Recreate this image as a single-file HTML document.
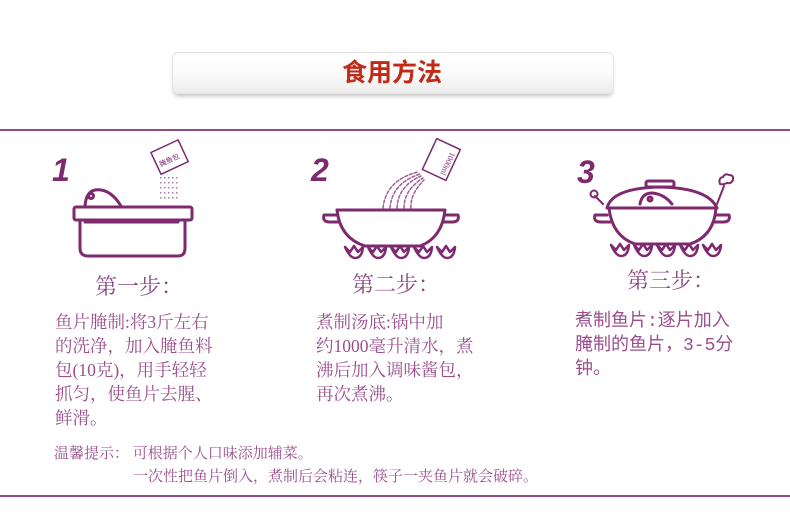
<!DOCTYPE html>
<html><head><meta charset="utf-8"><style>
body{margin:0;width:790px;height:524px;background:#fff;position:relative;overflow:hidden}
.t{position:absolute;white-space:nowrap;color:#9a4f8c;font-family:"Liberation Serif","Noto Serif CJK SC",serif}
.b{font-size:17.5px;line-height:24px}
.s{font-size:22px;color:#8a4a80}
</style></head><body>
<div style="position:absolute;left:172px;top:52px;width:440px;height:40px;border-radius:6px;border:1px solid #e4e4e4;background:linear-gradient(#fff,#fbfbfb 50%,#ececec);box-shadow:0 4px 5px -2px rgba(0,0,0,.25)"></div>
<div class="t" style="left:172px;width:440px;text-align:center;top:54px;font:bold 25px/34px 'Noto Sans CJK SC',sans-serif;color:#c22a18">食用方法</div>
<div style="position:absolute;left:0;top:129px;width:790px;height:2px;background:#8f4c84"></div>
<div style="position:absolute;left:0;top:495px;width:790px;height:2px;background:#8f4c84"></div>
<svg width="790" height="524" style="position:absolute;left:0;top:0" fill="none" stroke="#7d2a6e" stroke-width="3" stroke-linecap="round" stroke-linejoin="round">
<g fill="#7d2a6e" stroke="none" font-family="Liberation Sans,sans-serif" font-weight="bold" font-style="italic" font-size="32">
<text x="52" y="181">1</text><text x="311" y="181">2</text><text x="577" y="183">3</text></g>
<path d="M85 206 Q86 192 95 190 Q110 188 121 206"/><circle cx="91" cy="196" r="2.5"/>
<rect x="74" y="207" width="118" height="13" rx="2"/>
<path d="M80 220 V248 Q80 256 88 256 H178 Q185 256 185 248 V220"/>
<line x1="85" y1="222" x2="178" y2="222"/>
<g transform="rotate(-25 170 158)"><rect x="155" y="145" width="30" height="24" stroke-width="1.5"/><text x="158" y="162" font-size="7" fill="#7d2a6e" stroke="none" font-family="Noto Sans CJK SC">腌鱼包</text></g>
<g fill="#b07aa6" stroke="none"><path d="M160 177h1.5v1.5H160zM164 177h1.5v1.5H164zM168 177h1.5v1.5H168zM172 177h1.5v1.5H172zM176 177h1.5v1.5H176z"/>
<path d="M160 182h1.5v1.5H160zM164 182h1.5v1.5H164zM168 182h1.5v1.5H168zM172 182h1.5v1.5H172zM176 182h1.5v1.5H176z"/>
<path d="M160 187h1.5v1.5H160zM164 187h1.5v1.5H164zM168 187h1.5v1.5H168zM172 187h1.5v1.5H172zM176 187h1.5v1.5H176z"/>
<path d="M160 192h1.5v1.5H160zM164 192h1.5v1.5H164zM168 192h1.5v1.5H168zM172 192h1.5v1.5H172zM176 192h1.5v1.5H176z"/>
<path d="M160 197h1.5v1.5H160zM164 197h1.5v1.5H164zM168 197h1.5v1.5H168zM172 197h1.5v1.5H172zM176 197h1.5v1.5H176z"/></g>
<path d="M337 210 H445 M337 210 Q340 238 365 246 H420 Q442 238 445 210"/>
<path d="M337 215 H324 Q322 222 330 222 H339 M445 215 H458 Q460 222 452 222 H443"/>
<g stroke-width="2.5"><path d="M345 247 Q350 258 355 258 Q362 258 363 247 L358 252 L354 246 L350 252 Z"/>
<path d="M368 247 Q373 258 378 258 Q385 258 386 247 L381 252 L377 246 L373 252 Z"/>
<path d="M391 247 Q396 258 401 258 Q408 258 409 247 L404 252 L400 246 L396 252 Z"/>
<path d="M414 247 Q419 258 424 258 Q431 258 432 247 L427 252 L423 246 L419 252 Z"/>
<path d="M437 247 Q442 258 447 258 Q454 258 455 247 L450 252 L446 246 L442 252 Z"/></g>
<g transform="rotate(25 440 160)"><rect x="428" y="142" width="26" height="34" stroke-width="1.5"/><text x="446" y="148" font-size="8" fill="#7d2a6e" stroke="none" transform="rotate(90 446 148)">1000ml</text></g>
<g stroke="#a05c96" stroke-width="1.5" stroke-dasharray="3 2"><path d="M383 208 Q386 180 418 172"/><path d="M390 208 Q392 183 420 174"/><path d="M397 208 Q398 186 421 176"/><path d="M404 208 Q404 190 423 178"/><path d="M411 208 Q410 194 424 180"/></g>
<rect x="646" y="181" width="28" height="6" rx="2"/>
<path d="M607 208 Q612 188 660 187 Q708 188 717 208 Z"/>
<path d="M640 204 Q642 193 652 193 Q664 194 672 204"/><circle cx="650" cy="199" r="2"/>
<path d="M609 208 Q612 236 635 244 H690 Q714 236 716 208"/>
<path d="M607 215 H595 Q593 222 601 222 H610 M717 215 H729 Q731 222 723 222 H714"/>
<path d="M603 204 L595 196" stroke-width="2"/><circle cx="594" cy="194" r="3.5" stroke-width="2"/>
<path d="M717 204 L724 186" stroke-width="2"/><path d="M720 184 q-2-6 3-7 q2-4 6-2 q5 0 4 5 q-2 4-6 3 q-4 2-7 1z" stroke-width="2"/>
<g stroke-width="2.5"><path d="M611 245 Q616 256 621 256 Q628 256 629 245 L624 250 L620 244 L616 250 Z"/>
<path d="M634 245 Q639 256 644 256 Q651 256 652 245 L647 250 L643 244 L639 250 Z"/>
<path d="M657 245 Q662 256 667 256 Q674 256 675 245 L670 250 L666 244 L662 250 Z"/>
<path d="M680 245 Q685 256 690 256 Q697 256 698 245 L693 250 L689 244 L685 250 Z"/>
<path d="M703 245 Q708 256 713 256 Q720 256 721 245 L716 250 L712 244 L708 250 Z"/></g>
</svg>
<div class="t s" style="left:95px;top:270px">第一步：</div>
<div class="t s" style="left:352px;top:268px">第二步：</div>
<div class="t s" style="left:627px;top:264px">第三步：</div>
<div class="t b" style="left:55px;top:310px">鱼片腌制:将3斤左右<br>的洗净，加入腌鱼料<br>包(10克)，用手轻轻<br>抓匀，使鱼片去腥、<br>鲜滑。</div>
<div class="t b" style="left:316px;top:310px">煮制汤底:锅中加<br>约1000毫升清水，煮<br>沸后加入调味酱包，<br>再次煮沸。</div>
<div class="t b" style="left:575px;top:310px;font-size:18px;font-family:'Liberation Mono','Noto Sans CJK SC',monospace">煮制鱼片:逐片加入<br>腌制的鱼片，3-5分<br>钟。</div>
<div class="t" style="left:54px;top:442px;font-size:15px">温馨提示：&nbsp;可根据个人口味添加辅菜。</div>
<div class="t" style="left:133px;top:465px;font-size:15px">一次性把鱼片倒入，煮制后会粘连，筷子一夹鱼片就会破碎。</div>
</body></html>
